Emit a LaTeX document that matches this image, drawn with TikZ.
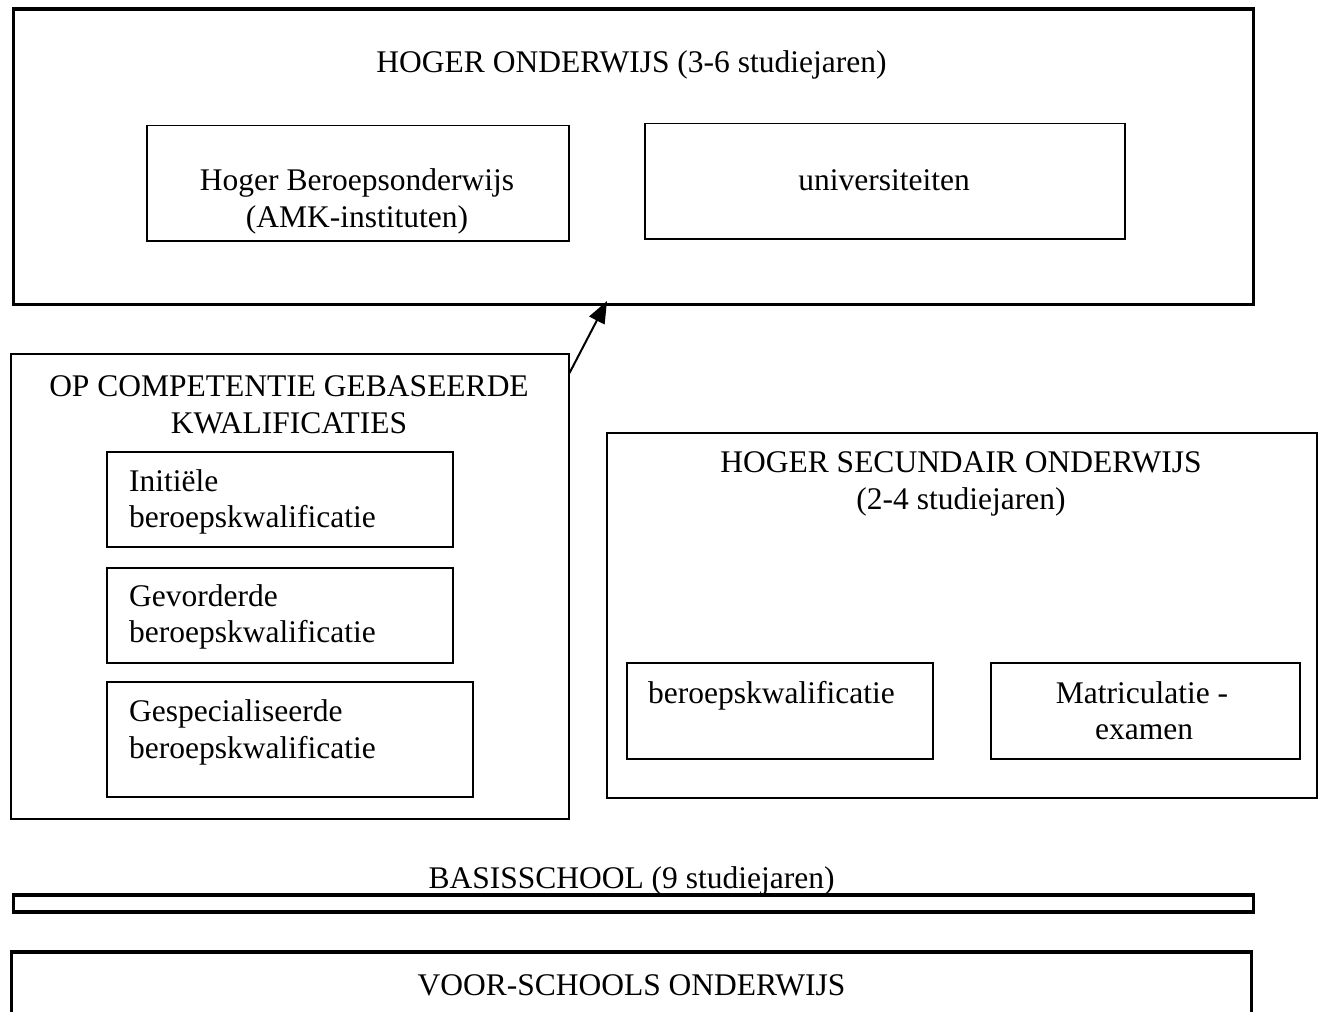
\documentclass[tikz,border=0pt]{standalone}
\usepackage{fontspec}
\setmainfont{Liberation Serif}
\usetikzlibrary{arrows.meta,calc}
\begin{document}
\begin{tikzpicture}[x=1pt,y=-1pt,
  heavybox/.style={draw, line width=3.5pt, anchor=north west, inner sep=0pt, minimum width=#1},
  lightbox/.style={draw, line width=1.5pt, anchor=north west, inner sep=0pt},
  lbl/.style={anchor=base, inner sep=0pt, font=\fontsize{31.5}{36.5}\selectfont},
  lbll/.style={anchor=base west, inner sep=0pt, font=\fontsize{31.5}{36.5}\selectfont}]
\useasboundingbox (0,0) rectangle (1321,1011);

% higher education
\node[heavybox=1240pt, minimum height=295pt] (hoger) at (11.5,7.5) {};
\node[lbl] (hogerT) at (631.5,73) {HOGER ONDERWIJS (3-6 studiejaren)};
\node[lightbox, minimum width=422pt, minimum height=115pt] (hbo) at (146,125) {};
\node[lbl] (hboA) at (357,190) {Hoger Beroepsonderwijs};
\node[lbl] (hboB) at (357,227) {(AMK-instituten)};
\node[lightbox, minimum width=480pt, minimum height=115pt] (uni) at (644,123) {};
\node[lbl] (uniT) at (884,190) {universiteiten};

% competence based qualifications
\node[lightbox, minimum width=558pt, minimum height=465pt] (comp) at (10,353) {};
\node[lbl] (compA) at (289,396) {OP COMPETENTIE GEBASEERDE};
\node[lbl] (compB) at (289,433) {KWALIFICATIES};
\node[lightbox, minimum width=346pt, minimum height=95pt] (q1) at (106,451) {};
\node[lbll] (q1a) at (129,491) {Initiële};
\node[lbll] (q1b) at (129,527) {beroepskwalificatie};
\node[lightbox, minimum width=346pt, minimum height=95pt] (q2) at (106,567) {};
\node[lbll] (q2a) at (129,606) {Gevorderde};
\node[lbll] (q2b) at (129,642) {beroepskwalificatie};
\node[lightbox, minimum width=366pt, minimum height=115pt] (q3) at (106,681) {};
\node[lbll] (q3a) at (129,721) {Gespecialiseerde};
\node[lbll] (q3b) at (129,758) {beroepskwalificatie};

% upper secondary education
\node[lightbox, minimum width=710pt, minimum height=365pt] (sec) at (606,432) {};
\node[lbl] (secA) at (961,472) {HOGER SECUNDAIR ONDERWIJS};
\node[lbl] (secB) at (961,509) {(2-4 studiejaren)};
\node[lightbox, minimum width=306pt, minimum height=96pt] (beroep) at (626,662) {};
\node[lbll] (beroepT) at (648,703) {beroepskwalificatie};
\node[lightbox, minimum width=309pt, minimum height=96pt] (matr) at (990,662) {};
\node[lbl] (matrA) at (1142,703) {Matriculatie -};
\node[lbl] (matrB) at (1144,739) {examen};

% arrow towards higher education
\coordinate (from) at ($(comp.north east)+(0,20)$);
\coordinate (tip) at (607,301);
\draw[line width=2pt, -{Triangle[length=22pt,width=17pt]}] (from) -- (tip);

% primary school
\node[lbl] (basisT) at (631.5,888) {BASISSCHOOL (9 studiejaren)};
\node[heavybox=1240pt, minimum height=17pt] (basis) at (11.5,893) {};

% pre-school education
\draw[line width=3.5pt] (11.5,1030) -- (11.5,952) -- (1251.5,952) -- (1251.5,1030);
\node[lbl] (voorT) at (631.5,995) {VOOR-SCHOOLS ONDERWIJS};
\end{tikzpicture}
\end{document}
